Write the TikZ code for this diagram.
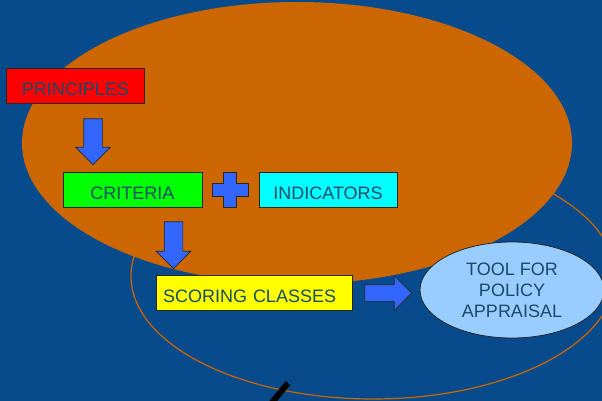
\documentclass[tikz,border=0pt]{standalone}
\usepackage{fontspec}
\setmainfont{Liberation Sans}
\usepackage{tikz}
\usetikzlibrary{shapes.geometric,shapes.arrows}
\definecolor{slideblue}{RGB}{8,75,140}
\definecolor{ovalorange}{RGB}{204,102,0}
\definecolor{arrowblue}{RGB}{51,102,255}
\definecolor{toolblue}{RGB}{153,204,255}
\definecolor{labelteal}{RGB}{25,75,105}
\definecolor{boxred}{RGB}{255,0,0}
\definecolor{boxgreen}{RGB}{0,255,0}
\definecolor{boxcyan}{RGB}{0,255,255}
\definecolor{boxyellow}{RGB}{255,255,0}

\begin{document}
\begin{tikzpicture}[x=1pt,y=-1pt,font=\fontsize{18}{21}\selectfont,
box/.style={draw=black!85, line width=0.8pt, minimum height=35pt, inner sep=0pt, text height=20pt, text=labelteal},
blockarrow/.style={single arrow, draw=black!85, fill=arrowblue, line width=0.7pt,
    inner sep=9pt, single arrow head extend=8pt, minimum height=46pt}]
\useasboundingbox (0,0) rectangle (602,401);
\fill[slideblue] (0,0) rectangle (602,401);
\draw[ovalorange, line width=1.2pt] (373,276) ellipse [x radius=242pt, y radius=123pt];
\fill[ovalorange] (297,143) ellipse [x radius=275pt, y radius=141pt];
\node[box, fill=boxred, minimum width=138pt] (principles) at (75.5,85.5) {PRINCIPLES};
\node[box, fill=boxgreen, minimum width=139pt] (criteria) at (132.5,189.5) {CRITERIA};
\node[box, fill=boxcyan, minimum width=138pt] (indicators) at (328,189.5) {INDICATORS};
\node[box, fill=boxyellow, text width=182pt, inner xsep=7pt, align=left] (scoring) at (254,292.5) {SCORING CLASSES};
\node[ellipse, draw=black!85, fill=toolblue, line width=0.8pt, minimum width=184pt, minimum height=96pt,
    inner sep=0pt, align=center, text=labelteal] (tool) at (512,290) {TOOL FOR\\POLICY\\APPRAISAL};
\node[blockarrow, rotate=-90] (down1) at (93,137) {};
\node[blockarrow, rotate=-90, minimum height=47pt] (down2) at (173.5,240.5) {};
\node[blockarrow, inner sep=8pt, single arrow head extend=9pt, minimum height=47pt] (right1) at (384,293) {};
\coordinate (plus) at (230,189.5);
\draw[shift={(plus)}, draw=black!85, fill=arrowblue, line width=0.9pt]
  (-6.5,-17.5) -- (6.5,-17.5) -- (6.5,-6.5) -- (18,-6.5) -- (18,6.5) -- (6.5,6.5) -- (6.5,17.5)
  -- (-6.5,17.5) -- (-6.5,6.5) -- (-18,6.5) -- (-18,-6.5) -- (-6.5,-6.5) -- cycle;
\draw[line width=6pt] (288,383) -- (270,405);
\end{tikzpicture}
\end{document}
